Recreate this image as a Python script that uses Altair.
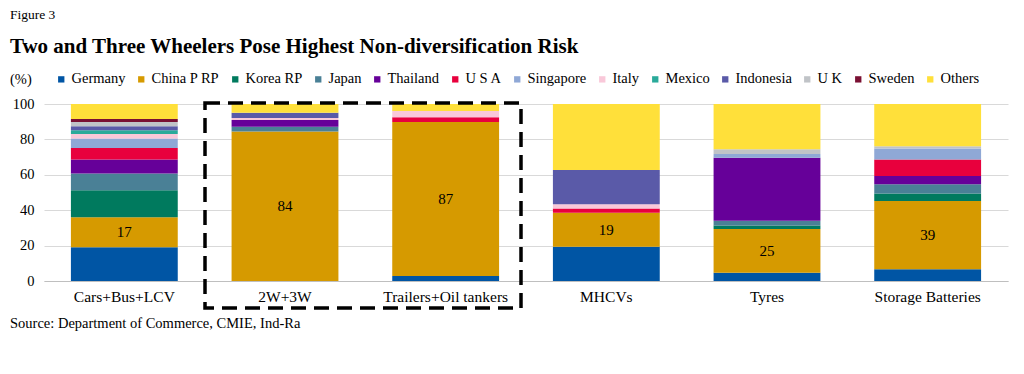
import altair as alt
import pandas as pd

categories = ["Cars+Bus+LCV", "2W+3W", "Trailers+Oil tankers", "MHCVs", "Tyres", "Storage Batteries"]
countries = ["Germany", "China P RP", "Korea RP", "Japan", "Thailand", "U S A", "Singapore",
             "Italy", "Mexico", "Indonesia", "U K", "Sweden", "Others"]
colors = ["#0055A4", "#D69A00", "#007A5E", "#4A8096", "#660099", "#E8003D", "#8FA8D6",
          "#F9C8D9", "#2AAA9A", "#5A5AA8", "#C0C3C7", "#7A1033", "#FFE03A"]

germany = [19.0, 0.0, 2.8, 19.4, 4.7, 6.6]
china = [17.0, 84.4, 87.0, 19.2, 24.7, 38.6]
korea = [15.3, 0.0, 0.0, 0.0, 1.9, 4.3]
japan = [9.4, 2.8, 0.0, 0.0, 2.8, 5.1]
thailand = [7.9, 3.8, 0.0, 0.0, 35.6, 4.7]
usa = [6.6, 0.0, 2.7, 2.4, 0.0, 9.4]
singapore = [5.3, 0.0, 0.0, 0.0, 2.0, 6.2]
italy = [2.6, 1.1, 3.6, 2.3, 0.0, 0.0]
mexico = [2.0, 0.0, 0.0, 0.0, 0.0, 0.0]
indonesia = [2.3, 3.0, 0.0, 19.4, 0.0, 0.0]
uk = [2.4, 0.0, 0.0, 0.0, 2.7, 1.3]
sweden = [1.7, 0.0, 0.0, 0.0, 0.0, 0.0]
others = [8.5, 4.9, 3.9, 37.3, 25.6, 23.8]
y_ticks = [0, 20, 40, 60, 80, 100]

series = [germany, china, korea, japan, thailand, usa, singapore, italy, mexico,
          indonesia, uk, sweden, others]

rows = []
for ci, (name, vals) in enumerate(zip(countries, series)):
    for cat, v in zip(categories, vals):
        rows.append({"category": cat, "country": name, "value": v, "order": ci})
df = pd.DataFrame(rows)

lab = pd.DataFrame({
    "category": categories,
    "mid": [g + c / 2 for g, c in zip(germany, china)],
    "label": [str(int(round(c))) for c in china],
})

FONT = "Liberation Serif"
W, H = 964, 177
xscale = alt.Scale(domain=categories, paddingInner=0.335, paddingOuter=0.1675)
yscale = alt.Scale(domain=[0, 100], nice=False)
xaxis = alt.Axis(labelAngle=0, labelFont=FONT, labelFontSize=15.5, labelColor="#000",
                 labelPadding=8, ticks=False, domainColor="#BFBFBF", grid=False)
yaxis = alt.Axis(values=y_ticks, labelFont=FONT, labelFontSize=14.5,
                 labelColor="#000", labelPadding=10, ticks=False, domain=False,
                 labelOverlap=False, gridColor="#D9D9D9")

bars = alt.Chart(df).mark_bar().encode(
    x=alt.X("category:N", sort=categories, title=None, scale=xscale, axis=xaxis),
    y=alt.Y("value:Q", stack="zero", title=None, scale=yscale, axis=yaxis),
    color=alt.Color("country:N", sort=countries,
                    scale=alt.Scale(domain=countries, range=colors),
                    legend=alt.Legend(title=None, orient="none", direction="horizontal",
                                      columns=13, legendX=10, legendY=-32,
                                      symbolType="square", symbolSize=40,
                                      symbolStrokeWidth=0, labelFont=FONT, labelFontSize=14.5,
                                      labelColor="#000", labelOffset=3, columnPadding=8)),
    order=alt.Order("order:Q", sort="ascending"),
)

labels = alt.Chart(lab).mark_text(font=FONT, fontSize=15, color="#000").encode(
    x=alt.X("category:N", sort=categories, title=None, scale=xscale, axis=xaxis),
    y=alt.Y("mid:Q", title=None, scale=yscale, axis=yaxis),
    text="label:N",
)

box = alt.Chart(pd.DataFrame({"a": [0]})).mark_rect(
    fill=None, stroke="#000", strokeWidth=3.5, strokeDash=[15, 8]
).encode(x=alt.value(161), x2=alt.value(477), y=alt.value(-1), y2=alt.value(204))

def txt(s, x, y, size, weight="normal"):
    return alt.Chart(pd.DataFrame({"t": [s]})).mark_text(
        font=FONT, fontSize=size, fontWeight=weight, color="#000", align="left",
        baseline="middle"
    ).encode(x=alt.value(x), y=alt.value(y), text="t:N")

fig = txt("Figure 3", -34, -89, 13.5)
title = txt("Two and Three Wheelers Pose Highest Non-diversification Risk", -34, -57, 21, "bold")
pct = txt("(%)", -34, -24, 14.5)
source = txt("Source: Department of Commerce, CMIE, Ind-Ra", -34, 220, 14.5)

chart = alt.layer(bars, labels, box, fig, title, pct, source).properties(
    width=W, height=H,
    padding={"left": 36, "top": 96, "right": 8, "bottom": 80},
    autosize=alt.AutoSizeParams(type="none"),
).configure_view(stroke=None)

chart.save("out.html", embed_options={"renderer": "svg", "actions": False})
